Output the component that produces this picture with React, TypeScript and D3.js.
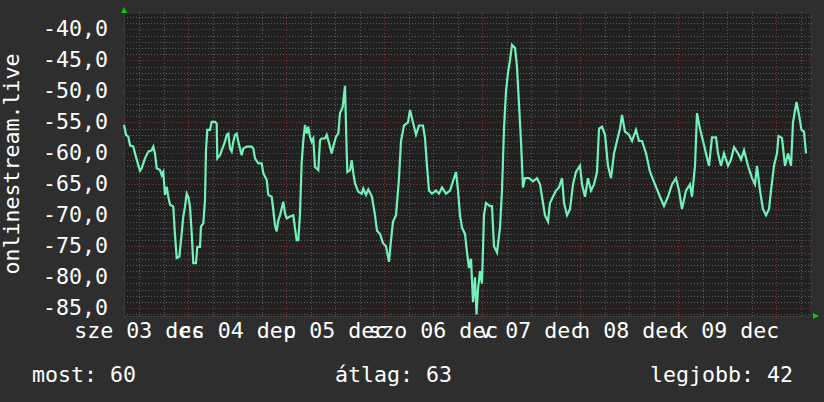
import React from "react";
import * as d3 from "d3";

const W = 824;
const H = 402;

// hours since 2014-12-03 08:15
const hours = [
  0, 0.49, 1.05, 1.47, 2.28, 2.69, 3.5, 3.92, 4.33, 5.14, 5.95, 6.78, 7.18, 7.59, 8.01, 8.82, 9.23, 9.62,
  10.04, 10.46, 10.85, 11.27, 12.07, 12.49, 12.91, 13.54, 14.13, 14.52, 14.94, 15.36, 15.75, 16.16, 16.58,
  16.97, 17.63, 17.95, 18.61, 18.86, 19.42, 19.84, 20.08, 20.4, 21.06, 21.48, 22.29, 22.7, 22.85, 23.51,
  23.93, 24.73, 25.15, 25.54, 25.96, 26.38, 26.77, 27.18, 27.6, 27.99, 28.41, 28.82, 29.22, 30.05, 31.27,
  31.67, 32.08, 32.89, 33.72, 34.11, 34.95, 35.34, 36.17, 36.56, 36.98, 37.4, 37.79, 38.2, 38.62, 39.01,
  39.43, 39.85, 40.65, 41.46, 41.88, 42.29, 42.69, 43.1, 43.52, 43.91, 44.33, 44.74, 45.13, 45.55, 45.97,
  46.36, 46.78, 47.58, 48.0, 48.42, 49.22, 49.64, 50.03, 50.87, 51.26, 51.92, 52.48, 52.9, 53.56, 53.88,
  54.12, 54.54, 54.69, 55.35, 55.76, 56.16, 56.57, 57.38, 58.21, 58.61, 59.27, 59.83,
  60.73, 61.47, 61.96, 62.69, 63.43, 64.16, 64.9, 65.39, 65.88, 66.61, 67.35, 67.84, 68.57, 69.55, 70.04,
  70.78, 71.51, 72.24, 73.22, 73.71, 74.2, 74.69, 75.43, 76.41, 77.14, 77.88, 78.86, 79.84, 80.57, 81.31,
  81.8, 82.29, 82.78, 83.51, 84.0, 84.49, 84.98, 85.47, 85.96, 86.33, 86.69, 87.18, 87.67, 88.16, 88.65,
  89.63, 90.12, 90.61, 91.35, 92.08, 92.57, 93.06, 93.55, 94.04, 94.53, 95.02, 95.76, 96.24, 96.73, 97.22,
  97.71, 98.2, 99.18, 100.16, 101.14, 101.88, 102.37, 103.1, 103.84, 104.33, 105.06, 105.8, 106.53, 107.27,
  107.76, 108.49, 109.22, 109.96, 110.69, 111.67, 112.16, 112.9, 113.63, 114.37, 115.1, 115.84, 116.33,
  117.06, 117.8, 118.53, 119.27, 120.0, 120.73, 121.47, 121.96, 122.69, 123.67, 124.41, 125.39, 126.12,
  126.86, 127.84, 128.82, 130.04, 131.27, 132.24, 133.22, 134.2, 135.18, 135.92, 136.65, 137.63, 138.61,
  139.1, 139.84, 140.33, 141.06, 141.8, 142.53, 143.27, 144.0, 144.98, 145.47, 146.2, 146.94, 147.92,
  148.65, 149.39, 150.37, 151.1, 151.84, 152.82, 153.8, 154.53, 155.02, 155.76, 156.49, 157.22, 157.96,
  158.45, 159.18, 159.92, 160.29, 161.14, 161.88, 162.61, 163.35, 163.84, 164.69, 165.31, 165.92, 166.53,
  167.02,
];

const values = [
  -55.4, -57.0, -57.3, -58.7, -58.9, -60, -61.9, -62.8, -62.4, -60.8, -59.7, -59.5, -58.9, -60, -62.4, -62.7,
  -63.5, -63, -66.7, -65.4, -67, -68.3, -68.6, -73.2, -76.9, -76.7, -72.9, -70.2, -68.6, -66.5, -67, -68.6,
  -72.9, -77.7, -77.7, -75.1, -75.1, -71.8, -71.3, -67.5, -59.5, -56.2, -56.2, -54.9, -54.9, -55.2, -60.8,
  -60.3, -59.5, -58.1, -57.0, -56.8, -59.2, -59.7, -58.1, -57, -56.8, -58.1, -59.2, -60.3, -59.2, -58.9,
  -58.9, -59.2, -60.8, -61.6, -61.6, -63.2, -64.3, -66.7, -67, -69.1, -71.6, -72.6, -70.8, -70, -68.9,
  -67.8, -69.7, -70.5, -70.2, -70, -72.1, -74, -74, -69.7, -61.4, -57.9, -55.4, -56.8, -55.7, -57.3, -58.1,
  -57.6, -62.2, -62.7, -57.9, -57.6, -57.6, -57, -57.9, -60, -58.9, -57.3, -56.8, -53.5, -52.5, -50.5,
  -49.1, -59.7, -63, -62.7, -61.1, -63.2, -64.8, -66.2, -66.5, -65.7, -66.7, -65.8,
  -67, -70, -72.5, -73, -74.5, -75, -77.5, -74, -71, -70, -64, -58, -55.5, -55, -53,
  -55, -57, -55.5, -55.5, -57.5, -62, -66, -66.5, -66, -66.5, -65.5, -66.5, -66, -64.5, -63,
  -66, -70, -72, -73, -76, -78.5, -77, -84, -80, -86, -82, -79, -81, -70, -68,
  -68.5, -68.5, -75, -76, -72, -66, -56, -50, -47, -45, -42.5, -43, -46, -52, -58,
  -65.5, -64, -64, -64.5, -64, -65, -67, -70, -71, -68, -67, -66, -65.5, -64,
  -68, -70, -69, -65, -63, -62, -65, -67, -64, -66, -65, -63, -56,
  -55.7, -57, -62, -64, -60, -58, -56, -53.8, -56.5, -57, -58, -56.2, -58,
  -58, -60, -63, -65, -67, -68.5, -67, -65, -64, -66, -69, -66, -65,
  -67, -62, -53.5, -56, -58, -60, -62, -57.4, -57.4, -60, -62, -60, -62,
  -61, -59, -60, -61, -59.5, -62, -64, -65, -62, -66, -69, -70, -69,
  -66, -62, -60, -57.2, -57.5, -62, -60, -62, -55, -51.7, -53.8, -56.2, -56.5,
  -60,
];

const yTicks = [-40, -45, -50, -55, -60, -65, -70, -75, -80, -85];
const dayLabels = ["sze 03 dec", "cs 04 dec", "p 05 dec", "szo 06 dec", "v 07 dec", "h 08 dec", "k 09 dec"];
const dayLabelDates = [3, 4, 5, 6, 7, 8, 9];
const footer = ["most: 60", "átlag: 63", "legjobb: 42"];
const yTitle = "onlinestream.live";

const FONT = "'DejaVu Sans Mono', monospace";

export default function App() {
  const start = new Date(2014, 11, 3, 8, 15);
  const end = new Date(start.getTime() + 168 * 3600e3);
  const left = 124, right = 810, top = 14, bottom = 316;
  const x = d3.scaleTime().domain([start, end]).range([left, right]);
  const y = d3.scaleLinear().domain([-86.25, -37.5]).range([bottom, top]);

  const pts: [Date, number][] = hours.map((h, i) => [new Date(start.getTime() + h * 3600e3), values[i]]);
  const line = d3
    .line<[Date, number]>()
    .x((d) => x(d[0]))
    .y((d) => y(d[1]));

  const minorX = d3.timeHour.every(6)!.range(start, end).filter((d) => d.getHours() !== 0);
  const majorX = d3.timeDay.range(start, end);
  const minorY = d3.range(-86, -37, 1).filter((v) => v % 5 !== 0);

  const fs = 21.6;
  const textStyle: React.CSSProperties = { fontFamily: FONT, fontSize: fs, fill: "#ffffff" };

  return (
    <svg width={W} height={H} style={{ position: "absolute", left: 0, top: 0 }}>
      <rect x={0} y={0} width={W} height={H} fill="#2e2e2e" />
      <rect x={left} y={top} width={right - left} height={bottom - top} fill="#212121" />
      <g shapeRendering="crispEdges">
        {minorY.map((v) => (
          <line key={"my" + v} x1={left} x2={right + 2} y1={Math.round(y(v)) + 0.5} y2={Math.round(y(v)) + 0.5}
            stroke="#5a5a5a" strokeDasharray="1,2" />
        ))}
        {minorX.map((d, i) => (
          <line key={"mx" + i} x1={Math.round(x(d)) + 0.5} x2={Math.round(x(d)) + 0.5} y1={top - 2} y2={bottom + 2}
            stroke="#5a5a5a" strokeDasharray="1,2" />
        ))}
        {yTicks.map((v) => (
          <line key={"My" + v} x1={left - 2} x2={right + 2} y1={Math.round(y(v)) + 0.5} y2={Math.round(y(v)) + 0.5}
            stroke="#7d3434" strokeDasharray="1,2" />
        ))}
        {majorX.map((d, i) => (
          <line key={"Mx" + i} x1={Math.round(x(d)) + 0.5} x2={Math.round(x(d)) + 0.5} y1={top - 2} y2={bottom + 4}
            stroke="#7d3434" strokeDasharray="1,2" />
        ))}
        <line x1={left} x2={right + 2} y1={bottom + 0.5} y2={bottom + 0.5} stroke="#3a3a3a" />
        <line x1={left + 0.5} x2={left + 0.5} y1={top} y2={bottom + 3} stroke="#3a3a3a" />
      </g>
      <path d={line(pts) || ""} fill="none" stroke="#72f2b8" strokeWidth={2.2} strokeLinejoin="miter" />
      <polygon points={`${left - 3},${top - 1} ${left + 3},${top - 1} ${left},${top - 7}`} fill="#00d000" />
      <polygon points={`${right + 3},${bottom - 3} ${right + 3},${bottom + 3} ${right + 9},${bottom}`} fill="#00d000" />
      {yTicks.map((v) => (
        <text key={"yl" + v} x={108} y={y(v) + 7} textAnchor="end" style={textStyle}>
          {v.toFixed(1).replace(".", ",")}
        </text>
      ))}
      {dayLabels.map((s, i) => (
        <text key={"xl" + i} x={x(new Date(2014, 11, dayLabelDates[i], 12, 0))} y={338} textAnchor="middle" style={textStyle}>
          {s}
        </text>
      ))}
      <text x={19} y={164} transform="rotate(-90 19 164)" textAnchor="middle" style={textStyle}>
        {yTitle}
      </text>
      <text x={32} y={382} style={textStyle}>{footer[0]}</text>
      <text x={335} y={382} style={textStyle}>{footer[1]}</text>
      <text x={650} y={382} style={textStyle}>{footer[2]}</text>
    </svg>
  );
}
